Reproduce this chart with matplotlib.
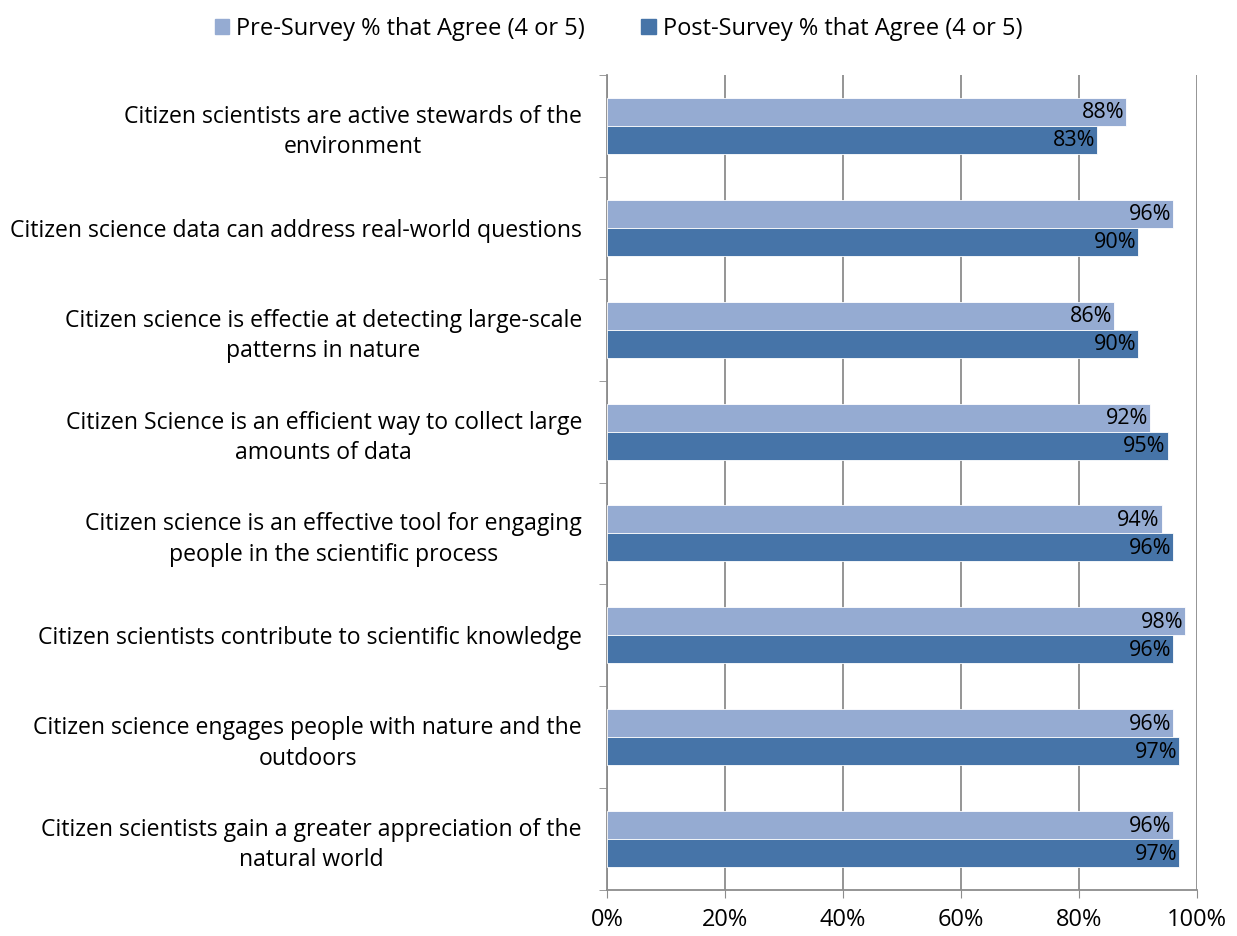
import numpy as np
import matplotlib.pyplot as plt
from matplotlib.patches import Patch

plt.rcParams['font.family'] = ['Open Sans', 'DejaVu Sans']

# Statements, top to bottom
statements = [
    "Citizen scientists are active stewards of the\nenvironment",
    "Citizen science data can address real-world questions",
    "Citizen science is effectie at detecting large-scale\npatterns in nature",
    "Citizen Science is an efficient way to collect large\namounts of data",
    "Citizen science is an effective tool for engaging\npeople in the scientific process",
    "Citizen scientists contribute to scientific knowledge",
    "Citizen science engages people with nature and the\noutdoors",
    "Citizen scientists gain a greater appreciation of the\nnatural world",
]
pre_agree = [88, 96, 86, 92, 94, 98, 96, 96]
post_agree = [83, 90, 90, 95, 96, 96, 97, 97]

pre_color = "#95abd2"
post_color = "#4674a8"
grid_color = "#8c8c8c"

fig = plt.figure(figsize=(12.37, 9.36), dpi=100)
ax = fig.add_axes([0.4907, 0.0491, 0.477, 0.8708])

y = np.arange(len(statements))
h = 0.275
ax.barh(y - h / 2, pre_agree, height=h, color=pre_color, edgecolor="white", linewidth=0.6, zorder=3)
ax.barh(y + h / 2, post_agree, height=h, color=post_color, edgecolor="white", linewidth=0.6, zorder=3)

for yi, v in zip(y, pre_agree):
    ax.text(v - 0.3, yi - h / 2 + 0.01, f"{v}%", ha="right", va="center", fontsize=15.5, zorder=4)
for yi, v in zip(y, post_agree):
    ax.text(v - 0.3, yi + h / 2 + 0.01, f"{v}%", ha="right", va="center", fontsize=15.5, zorder=4)

ax.set_xlim(0, 100)
ax.set_ylim(len(statements) - 0.5, -0.5)
ax.set_xticks(np.arange(0, 101, 20))
ax.set_xticklabels([f"{t}%" for t in range(0, 101, 20)], fontsize=17)

# category labels in the middle, tick marks at band edges
ax.set_yticks(y)
ax.set_yticklabels(statements, fontsize=16.6, ha="right", multialignment="center",
                   linespacing=1.35)
ax.tick_params(axis="y", length=0, pad=18)
ax.set_yticks(np.arange(-0.5, len(statements)), minor=True)
ax.tick_params(axis="y", which="minor", length=6, color=grid_color, direction="out")
ax.tick_params(axis="x", length=6, color=grid_color, direction="out", pad=7)

ax.xaxis.grid(True, color=grid_color, linewidth=1.3, zorder=0)
for s in ["top", "right"]:
    ax.spines[s].set_visible(False)
for s in ["left", "bottom"]:
    ax.spines[s].set_color(grid_color)
    ax.spines[s].set_linewidth(1.3)

handles = [Patch(color=pre_color, label="Pre-Survey % that Agree (4 or 5)"),
           Patch(color=post_color, label="Post-Survey % that Agree (4 or 5)")]
fig.legend(handles=handles, loc="upper center", bbox_to_anchor=(0.5, 1.005), ncol=2,
           frameon=False, fontsize=17, handlelength=0.6, handleheight=0.6,
           handletextpad=0.3, columnspacing=2.4)

fig.savefig("out.png", dpi=100)
